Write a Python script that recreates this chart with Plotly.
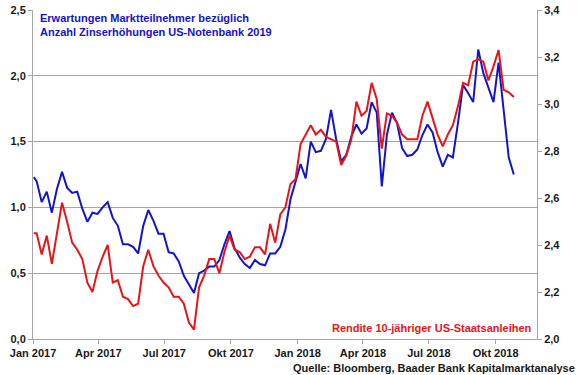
import pandas as pd
import plotly.graph_objects as go

# ---- data ----
start_date = ["2017-01-02"]
weekly_dates = [d.strftime("%Y-%m-%d") for d in pd.date_range("2017-01-06", periods=95, freq="7D")]
dates = start_date + weekly_dates

# Expected number of Fed hikes in 2019 (left axis)
fed_hikes_2019 = [1.23,
    1.20, 1.04, 1.12, 0.96, 1.14, 1.27, 1.15, 1.11, 1.12, 0.99, 0.89, 0.96, 0.95,
    1.00, 1.04, 0.92, 0.86, 0.72, 0.72, 0.70, 0.65, 0.86, 0.98, 0.90, 0.80, 0.80,
    0.66, 0.65, 0.59, 0.48, 0.42, 0.35, 0.50, 0.52, 0.55, 0.55, 0.60, 0.72, 0.82,
    0.69, 0.62, 0.57, 0.54, 0.60, 0.57, 0.56, 0.65, 0.65, 0.70, 0.83, 1.06, 1.20,
    1.33, 1.22, 1.50, 1.42, 1.43, 1.52, 1.74, 1.52, 1.35, 1.40, 1.54, 1.63, 1.56,
    1.60, 1.80, 1.72, 1.16, 1.55, 1.72, 1.64, 1.45, 1.39, 1.40, 1.44, 1.55, 1.63,
    1.57, 1.42, 1.31, 1.40, 1.38, 1.64, 1.93, 1.87, 1.80, 2.20, 2.02, 1.91, 1.80,
    2.10, 1.75, 1.38, 1.25]

# 10-year US Treasury yield (right axis)
us10y_yield = [2.45,
    2.45, 2.36, 2.44, 2.32, 2.45, 2.58, 2.50, 2.41, 2.38, 2.34, 2.24, 2.20, 2.29,
    2.35, 2.40, 2.24, 2.25, 2.18, 2.17, 2.14, 2.15, 2.31, 2.38, 2.31, 2.27, 2.24,
    2.22, 2.18, 2.18, 2.15, 2.07, 2.04, 2.22, 2.27, 2.34, 2.34, 2.28, 2.37, 2.44,
    2.38, 2.37, 2.34, 2.35, 2.39, 2.39, 2.36, 2.49, 2.41, 2.53, 2.56, 2.66, 2.68,
    2.83, 2.87, 2.91, 2.87, 2.89, 2.86, 2.85, 2.84, 2.74, 2.78, 2.85, 3.01, 2.95,
    2.97, 3.09, 3.02, 2.81, 2.96, 2.95, 2.92, 2.87, 2.85, 2.85, 2.85, 2.95, 3.01,
    2.94, 2.87, 2.82, 2.87, 2.91, 2.99, 3.09, 3.08, 3.18, 3.19, 3.18, 3.10, 3.16,
    3.23, 3.06, 3.05, 3.03]

x_tick_dates = ["2017-01-01", "2017-04-01", "2017-07-01", "2017-10-01",
                "2018-01-01", "2018-04-01", "2018-07-01", "2018-10-01"]
x_tick_labels = ["Jan 2017", "Apr 2017", "Jul 2017", "Okt 2017",
                 "Jan 2018", "Apr 2018", "Jul 2018", "Okt 2018"]

blue_label = "Erwartungen Marktteilnehmer bezüglich<br>Anzahl Zinserhöhungen US-Notenbank 2019"
red_label = "Rendite 10-jähriger US-Staatsanleihen"
source_label = "Quelle: Bloomberg, Baader Bank Kapitalmarktanalyse"

# ---- styles ----
BLUE = "#1414C8"
RED = "#E4161B"
GRID = "#A6A6A6"
FONT = "Liberation Sans"

fig = go.Figure()
fig.add_trace(go.Scatter(x=dates, y=us10y_yield, mode="lines", yaxis="y2",
                         line=dict(color=RED, width=2), showlegend=False))
fig.add_trace(go.Scatter(x=dates, y=fed_hikes_2019, mode="lines", yaxis="y",
                         line=dict(color=BLUE, width=2), showlegend=False))

tickfont = dict(family=FONT, size=11, color="#1a1a1a", weight="bold")

fig.update_layout(
    width=580, height=375,
    margin=dict(l=33, r=43, t=10, b=36, autoexpand=False),
    paper_bgcolor="white", plot_bgcolor="white",
    separators=",.",
    font=dict(family=FONT),
    xaxis=dict(
        type="date", range=["2017-01-01", "2018-11-27"],
        tickvals=x_tick_dates, ticktext=x_tick_labels,
        showgrid=False, showline=True, linecolor=GRID, linewidth=1,
        ticks="outside", ticklen=4, tickcolor=GRID, tickfont=tickfont,
        zeroline=False,
    ),
    yaxis=dict(
        range=[0, 2.5], dtick=0.5, tick0=0, tickformat=".1f",
        showgrid=True, gridcolor=GRID, gridwidth=1,
        showline=True, linecolor=GRID, linewidth=1,
        ticks="outside", ticklen=4, tickcolor=GRID, tickfont=tickfont,
        zeroline=False,
    ),
    yaxis2=dict(
        range=[2.0, 3.4], dtick=0.2, tick0=2.0, tickformat=".1f",
        overlaying="y", side="right", showgrid=False,
        showline=True, linecolor=GRID, linewidth=1,
        ticks="outside", ticklen=4, tickcolor=GRID, tickfont=tickfont,
        zeroline=False,
    ),
    annotations=[
        dict(text=blue_label, xref="paper", yref="paper", x=0.01, y=1.0,
             xanchor="left", yanchor="top", showarrow=False, align="left",
             font=dict(family=FONT, size=11, color=BLUE, weight="bold")),
        dict(text=red_label, xref="paper", yref="paper", x=0.995, y=0.01,
             xanchor="right", yanchor="bottom", showarrow=False, align="right",
             font=dict(family=FONT, size=11, color=RED, weight="bold")),
        dict(text=source_label, xref="paper", yref="paper", x=1.08, y=-0.065,
             xanchor="right", yanchor="top", showarrow=False, align="right",
             font=dict(family=FONT, size=11, color="#1a1a1a", weight="bold")),
    ],
)

# remove the browser's default 8px page margin so the figure fills the window
fig.write_html("out.html",
               config={"displayModeBar": False},
               post_script="document.body.style.margin='0';document.body.style.overflow='hidden';")
